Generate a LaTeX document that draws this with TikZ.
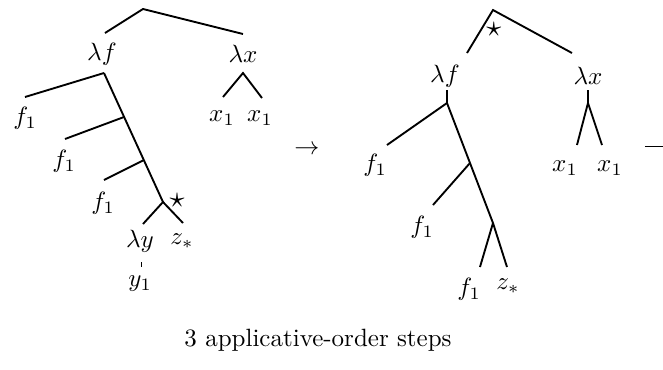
\documentclass[tikz,border=0pt]{standalone}
\begin{document}
\begin{tikzpicture}[x=0.4pt,y=-0.4pt,
  edge/.style={line width=0.75pt},
  lbl/.style={inner sep=0pt},
  starmark/.style={inner sep=0pt,scale=1.2}]
\useasboundingbox (0,0) rectangle (663,369);
\clip (0,0) rectangle (663,369);
% ---------- left tree ----------
\coordinate (LA) at (143,9);
\coordinate (LAl) at (105,33);
\coordinate (LAr) at (243,34);
\node[lbl] (Llf) at (102,54) {$\lambda f$};
\node[lbl] (Llx) at (243,54) {$\lambda x$};
\draw[edge] (LAl) -- (LA) -- (LAr);
\coordinate (LT0) at (104,73);
\coordinate (LT1) at (124,117);
\coordinate (LT2) at (144,160);
\coordinate (LT3) at (163,202);
\coordinate (LB1) at (25,97);
\coordinate (LB2) at (65,139);
\coordinate (LB3) at (104,180);
\draw[edge] (LT0) -- (LT3);
\draw[edge] (LT0) -- (LB1);
\draw[edge] (LT1) -- (LB2);
\draw[edge] (LT2) -- (LB3);
\node[lbl] (Lf1) at (25,118) {$f_1$};
\node[lbl] (Lf2) at (64,161) {$f_1$};
\node[lbl] (Lf3) at (103,203) {$f_1$};
\node[starmark] (Lstar) at (177,201) {$\star$};
\coordinate (LZe) at (183,223);
\coordinate (LYe) at (143,224);
\draw[edge] (LYe) -- (LT3) -- (LZe);
\node[lbl] (Lly) at (140,241) {$\lambda y$};
\node[lbl] (Lz) at (182,241) {$z_*$};
\coordinate (Lt0) at (142,262);
\coordinate (Lt1) at (142,267);
\draw[line width=0.4pt] (Lt0) -- (Lt1);
\node[lbl] (Ly1) at (140,284) {$y_1$};
\coordinate (LX0) at (243,73);
\coordinate (LX1) at (223,97);
\coordinate (LX2) at (262,98);
\draw[edge] (LX1) -- (LX0) -- (LX2);
\node[lbl] (Lx1) at (222,118) {$x_1$};
\node[lbl] (Lx2) at (260,118) {$x_1$};
\node[lbl] (arr) at (307,150) {$\rightarrow$};
% ---------- right tree ----------
\coordinate (RA) at (493,10);
\coordinate (RAl) at (467,53);
\coordinate (RAr) at (572,53);
\draw[edge] (RAl) -- (RA) -- (RAr);
\node[starmark] (Rstar) at (494,30) {$\star$};
\node[lbl] (Rlf) at (445,76) {$\lambda f$};
\node[lbl] (Rlx) at (588,76) {$\lambda x$};
\coordinate (RV0) at (447,90);
\coordinate (RT0) at (447,103);
\coordinate (RT1) at (470,163);
\coordinate (RT2) at (493,223);
\coordinate (RT3) at (507,267);
\coordinate (RB1) at (387,145);
\coordinate (RB2) at (433,205);
\coordinate (RB3) at (480,267);
\draw[edge] (RV0) -- (RT0) -- (RT2) -- (RT3);
\draw[edge] (RT0) -- (RB1);
\draw[edge] (RT1) -- (RB2);
\draw[edge] (RT2) -- (RB3);
\node[lbl] (Rf1) at (375,165) {$f_1$};
\node[lbl] (Rf2) at (422,227) {$f_1$};
\node[lbl] (Rf3) at (469,289) {$f_1$};
\node[lbl] (Rz) at (508,286) {$z_*$};
\coordinate (RX0) at (588,90);
\coordinate (RX1) at (588,103);
\coordinate (RX2) at (577,145);
\coordinate (RX3) at (602,145);
\draw[edge] (RX0) -- (RX1) -- (RX2);
\draw[edge] (RX1) -- (RX3);
\node[lbl] (Rx1) at (565,168) {$x_1$};
\node[lbl] (Rx2) at (610,168) {$x_1$};
\coordinate (E0) at (645,146);
\coordinate (E1) at (663,146);
\draw[line width=0.4pt] (E0) -- (E1);
% ---------- caption ----------
\node[lbl] (cap) at (318,340) {3 applicative-order steps};
\end{tikzpicture}
\end{document}
